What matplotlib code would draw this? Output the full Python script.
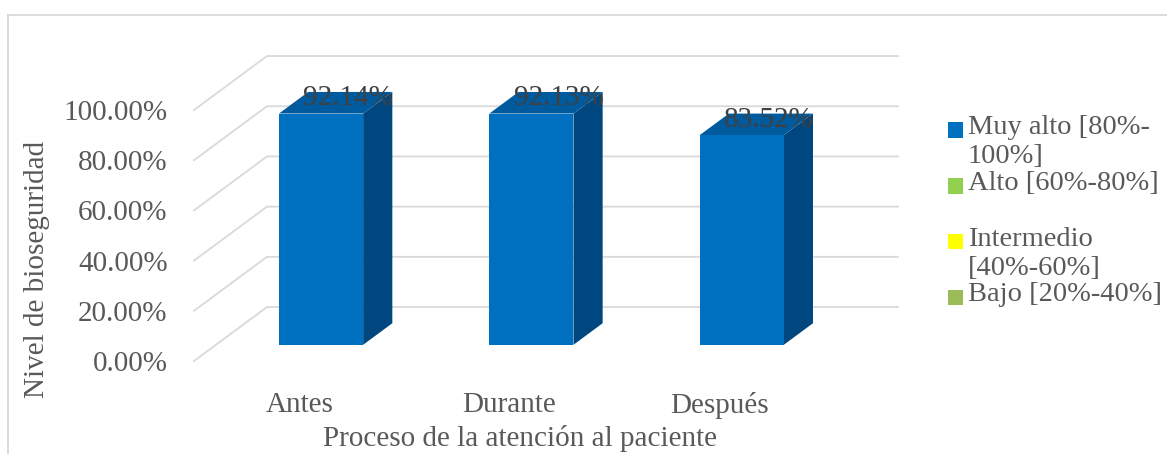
import numpy as np
import matplotlib
matplotlib.use("Agg")
import matplotlib.pyplot as plt
from matplotlib.patches import Polygon, Rectangle
from matplotlib.lines import Line2D

# Datos
categorias = ["Antes", "Durante", "Después"]
valores = np.array([92.14, 92.13, 83.52])
ticks_y = np.array([0, 20, 40, 60, 80, 100])
niveles = ["Muy alto [80%-\n100%]", "Alto [60%-80%]", "Intermedio\n[40%-60%]", "Bajo [20%-40%]"]
colores_niveles = ["#0070C0", "#92D050", "#FFFF00", "#9BBB59"]

plt.rcParams["font.family"] = ["Liberation Serif", "DejaVu Serif"]

GRIS_TEXTO = "#595959"
GRIS_REJILLA = "#D9D9D9"
AZUL_FRENTE = "#0070C0"
AZUL_TAPA = "#005A9E"
AZUL_LADO = "#00477F"

fig = plt.figure(figsize=(11.67, 4.54), dpi=100)
ax = fig.add_axes([194 / 1167, 93 / 454, 631 / 1167, 251 / 454])
n = len(categorias)
ax.set_xlim(-0.5, n - 0.5)
ax.set_ylim(0, 100)
for s in ax.spines.values():
    s.set_visible(False)

# vector de profundidad (perspectiva oblicua) en unidades de datos
DX, DY = 0.347, 21.5
ancho = 0.4
d0, d1 = 0.3, 0.7

# rejilla: diagonal del suelo/pared lateral + línea de la pared del fondo
x_izq, x_der = -0.5, n - 0.5
for v in ticks_y:
    ax.add_line(Line2D([x_izq, x_izq + DX, x_der + DX], [v, v + DY, v + DY],
                       color=GRIS_REJILLA, lw=1.3, zorder=1, clip_on=False))

# barras 3D
for i, v in enumerate(valores):
    xl, xr = i - ancho / 2, i + ancho / 2
    lado = [(xr + d0 * DX, d0 * DY), (xr + d1 * DX, d1 * DY),
            (xr + d1 * DX, v + d1 * DY), (xr + d0 * DX, v + d0 * DY)]
    tapa = [(xl + d0 * DX, v + d0 * DY), (xr + d0 * DX, v + d0 * DY),
            (xr + d1 * DX, v + d1 * DY), (xl + d1 * DX, v + d1 * DY)]
    ax.add_patch(Polygon(lado, closed=True, facecolor=AZUL_LADO, edgecolor="none",
                         zorder=3, clip_on=False))
    ax.add_patch(Polygon(tapa, closed=True, facecolor=AZUL_TAPA, edgecolor="none",
                         zorder=3, clip_on=False))
    ax.add_patch(Rectangle((xl + d0 * DX, d0 * DY), ancho, v, facecolor=AZUL_FRENTE,
                           edgecolor="none", zorder=4, clip_on=False))
    ax.text(i + 0.67 * DX, v + 0.58 * DY, f"{v:.2f}%", ha="center", va="center",
            fontsize=21, color="#404040", zorder=6, clip_on=False)

# ejes
ax.set_yticks(ticks_y)
ax.set_yticklabels([f"{t:.2f}%" for t in ticks_y])
ax.set_xticks(np.arange(n))
ax.set_xticklabels(categorias)
ax.tick_params(axis="y", length=0, pad=19, labelsize=21, labelcolor=GRIS_TEXTO)
ax.tick_params(axis="x", length=0, pad=22, labelsize=21, labelcolor=GRIS_TEXTO)
ax.set_xlabel("Proceso de la atención al paciente", fontsize=21, color=GRIS_TEXTO)
ax.xaxis.set_label_coords(0.517, -0.307)
ax.xaxis.label.set_va("center")
ax.set_ylabel("Nivel de bioseguridad", fontsize=21, color=GRIS_TEXTO)
ax.yaxis.set_label_coords(-0.249, 0.363)
ax.yaxis.label.set_va("center")

# leyenda
fy = lambda py: 1 - py / 454
fx = lambda px: px / 1167
pos_leyenda = [130, 186, 241.5, 297]
for etiqueta, color, py in zip(niveles, colores_niveles, pos_leyenda):
    fig.patches.append(Rectangle((fx(948), fy(py + 7.5)), 15 / 1167, 15 / 454,
                                 transform=fig.transFigure, facecolor=color,
                                 edgecolor="none"))
    fig.text(fx(968), fy(py - 15), etiqueta, ha="left", va="top", fontsize=20.5,
             color=GRIS_TEXTO, linespacing=1.22)

# borde del área del gráfico
fig.add_artist(Line2D([fx(8), 1], [fy(15), fy(15)], transform=fig.transFigure,
                      color=GRIS_REJILLA, lw=1.3))
fig.add_artist(Line2D([fx(8), fx(8)], [fy(15), 0], transform=fig.transFigure,
                      color=GRIS_REJILLA, lw=1.3))

fig.savefig("out.png", dpi=100)
